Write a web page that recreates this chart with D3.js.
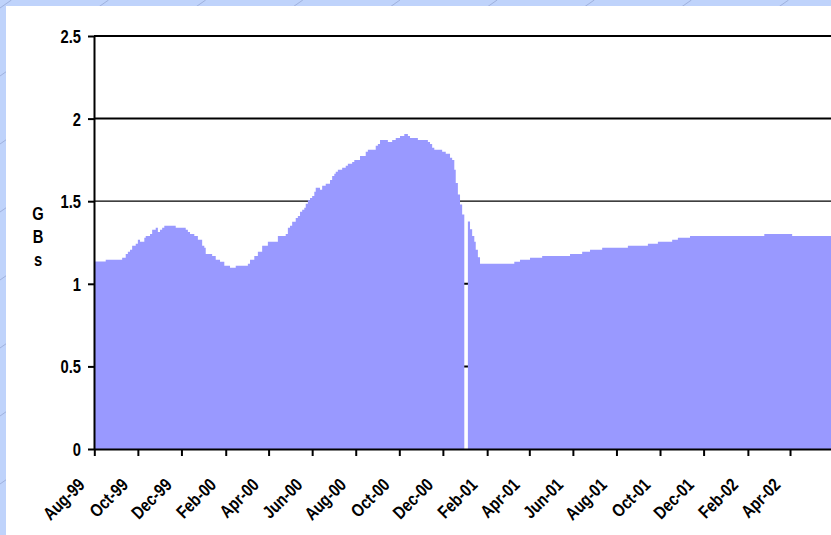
<!DOCTYPE html>
<html>
<head>
<meta charset="utf-8">
<script src="https://cdn.jsdelivr.net/npm/d3@7"></script>
<style>
  body { margin: 0; overflow: hidden; background: #bfd3fb; }
  svg { display: block; }
  .lbl { font-family: "Liberation Sans", Arial, sans-serif; font-weight: bold; font-size: 18px; fill: #000; }
</style>
</head>
<body>
<svg id="chart" width="831" height="535"></svg>
<script>
// ---------- data ----------
// dates where the storage level changes, value holds until the next date
var stepDates = [
  "1999-08-01","1999-08-17","1999-09-09","1999-09-14","1999-09-17","1999-09-20","1999-09-23","1999-09-28",
  "1999-10-01","1999-10-04","1999-10-10","1999-10-12","1999-10-18","1999-10-21","1999-10-26","1999-10-29",
  "1999-11-01","1999-11-04","1999-11-07","1999-11-23","1999-12-07","1999-12-10","1999-12-13","1999-12-19",
  "1999-12-24","1999-12-30","2000-01-02","2000-01-04","2000-01-13","2000-01-18","2000-01-24","2000-01-30",
  "2000-02-07","2000-02-15","2000-03-03","2000-03-06","2000-03-12","2000-03-17","2000-03-23","2000-03-31",
  "2000-04-14","2000-04-25","2000-04-28","2000-05-01","2000-05-04","2000-05-09","2000-05-12","2000-05-15",
  "2000-05-18","2000-05-21","2000-05-23","2000-05-26","2000-05-29","2000-06-01","2000-06-04","2000-06-06",
  "2000-06-12","2000-06-15","2000-06-20","2000-06-26","2000-06-29","2000-07-02","2000-07-04","2000-07-07",
  "2000-07-13","2000-07-18","2000-07-21","2000-07-27","2000-07-30","2000-08-07","2000-08-15","2000-08-18",
  "2000-08-29","2000-09-01","2000-09-04","2000-09-15","2000-09-21","2000-09-26","2000-10-02","2000-10-08",
  "2000-10-13","2000-10-16","2000-10-27","2000-11-10","2000-11-13","2000-11-16","2000-11-19","2000-11-30",
  "2000-12-05","2000-12-11","2000-12-14","2000-12-17","2000-12-19","2000-12-22","2000-12-25","2000-12-28",
  "2000-12-31","2001-01-05","2001-01-08","2001-01-11","2001-01-14","2001-01-16","2001-01-19","2001-01-22",
  "2001-03-11","2001-03-19","2001-04-02","2001-04-19","2001-05-28","2001-06-14","2001-06-25","2001-07-12",
  "2001-08-17","2001-09-14","2001-09-28","2001-10-18","2001-10-26","2001-11-12","2002-02-24","2002-04-04"
];
var gbValues = [
  1.135,1.145,1.157,1.181,1.194,1.206,1.230,1.242,
  1.266,1.254,1.278,1.290,1.302,1.327,1.339,1.314,
  1.327,1.339,1.351,1.339,1.327,1.314,1.302,1.290,
  1.266,1.230,1.218,1.181,1.169,1.145,1.133,1.109,
  1.097,1.109,1.121,1.145,1.169,1.194,1.230,1.254,
  1.290,1.302,1.339,1.351,1.375,1.399,1.411,1.436,
  1.448,1.460,1.484,1.508,1.520,1.532,1.557,1.581,
  1.569,1.593,1.605,1.629,1.653,1.666,1.678,1.690,
  1.702,1.714,1.726,1.738,1.750,1.774,1.799,1.811,
  1.835,1.847,1.871,1.859,1.871,1.883,1.895,1.907,
  1.895,1.883,1.871,1.859,1.847,1.823,1.811,1.799,
  1.787,1.763,1.750,1.690,1.610,1.540,1.480,1.420,
  0,1.377,1.330,1.290,1.254,1.206,1.160,1.121,
  1.133,1.145,1.157,1.169,1.181,1.194,1.206,1.218,
  1.230,1.242,1.254,1.266,1.278,1.290,1.302,1.290
];
var xTickLabels = ["Aug-99","Oct-99","Dec-99","Feb-00","Apr-00","Jun-00","Aug-00","Oct-00",
  "Dec-00","Feb-01","Apr-01","Jun-01","Aug-01","Oct-01","Dec-01","Feb-02","Apr-02"];
var yTicks = [0, 0.5, 1, 1.5, 2, 2.5];
var axisTitle = ["G", "B", "s"];
var axisStart = "1999-08-01", axisEnd = "2002-06-01";

// ---------- setup ----------
var svgWidth = 831, svgHeight = 535;
var svg = d3.select("#chart");

var parseDay = d3.utcParse("%Y-%m-%d");
var parseTick = d3.utcParse("%b-%y");
var fmtTick = d3.utcFormat("%b-%y");

var x = d3.scaleUtc()
  .domain([parseDay(axisStart), parseDay(axisEnd)])
  .range([94.3, 833.6]);
var y = d3.scaleLinear()
  .domain([0, 2.5])
  .range([449, 36]);

var data = stepDates.map((d, i) => ({ date: parseDay(d), value: gbValues[i] }));
// carry last level to the end of the axis
data.push({ date: parseDay(axisEnd), value: gbValues[gbValues.length - 1] });

// ---------- background ----------
svg.append("rect").attr("width", svgWidth).attr("height", svgHeight).attr("fill", "#bfd3fb");
var deco = svg.append("g").attr("stroke", "#8e9fce").attr("stroke-width", 0.8).attr("opacity", 0.8);
d3.range(-60, 1400, 68).forEach(c => {
  deco.append("line").attr("x1", 0).attr("y1", c).attr("x2", c / 0.7).attr("y2", 0);
});
svg.append("rect").attr("x", 6).attr("y", 6).attr("width", svgWidth - 6).attr("height", svgHeight - 6).attr("fill", "#fff");

// ---------- gridlines ----------
svg.append("g").selectAll("line")
  .data(yTicks.filter(v => v > 0))
  .enter().append("line")
  .attr("x1", 94).attr("x2", svgWidth)
  .attr("y1", d => y(d)).attr("y2", d => y(d))
  .attr("stroke", "#000")
  .attr("stroke-width", d => d === 1.5 ? 1.2 : 2);

// ---------- area ----------
var area = d3.area()
  .curve(d3.curveStepAfter)
  .x(d => x(d.date))
  .y0(y(0))
  .y1(d => y(d.value));

svg.append("path")
  .datum(data)
  .attr("fill", "#9999ff")
  .attr("d", area);

// ---------- axes ----------
var yAxis = svg.append("g")
  .attr("transform", "translate(94,0)")
  .call(d3.axisLeft(y).tickValues(yTicks).tickSize(6).tickSizeOuter(0).tickFormat(d3.format("")));
yAxis.select(".domain").attr("stroke-width", 2);
yAxis.selectAll(".tick line").attr("stroke-width", 2);
yAxis.selectAll("text")
  .attr("class", "lbl")
  .attr("x", 0).attr("dy", "0.36em")
  .attr("transform", "translate(-13,0) scale(0.82,1)");

var xAxis = svg.append("g")
  .attr("transform", `translate(0,${y(0)})`)
  .call(d3.axisBottom(x).tickValues(xTickLabels.map(parseTick)).tickSize(7).tickSizeOuter(0).tickFormat(fmtTick));
xAxis.select(".domain").attr("stroke-width", 2);
xAxis.selectAll(".tick line").attr("stroke-width", 2);
xAxis.selectAll("text")
  .attr("class", "lbl")
  .attr("y", 0).attr("dy", 0)
  .attr("text-anchor", "end")
  .attr("transform", "translate(-9,37) rotate(-45) scale(0.82,1)");

// ---------- axis title ----------
svg.append("g").selectAll("text")
  .data(axisTitle)
  .enter().append("text")
  .attr("class", "lbl")
  .attr("text-anchor", "middle")
  .attr("transform", (d, i) => `translate(38,${219.5 + i * 23}) scale(0.82,1)`)
  .text(d => d);
</script>
</body>
</html>
